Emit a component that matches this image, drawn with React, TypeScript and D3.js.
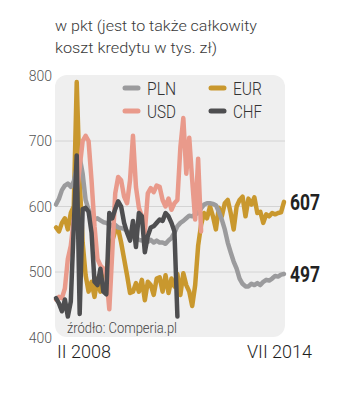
import React from "react";
import * as d3 from "d3";

const titleLines = ["w pkt (jest to także całkowity", "koszt kredytu w tys. zł)"];
const yTicks = [400, 500, 600, 700, 800];
const gridValues = [500, 600, 700];
const startLabel = "II 2008";
const endLabel = "VII 2014";
const sourceLabel = "źródło: Comperia.pl";

const PLN = [603, 612, 625, 632, 635, 630, 638, 660, 675, 650, 610, 595, 585, 580, 582, 579, 576, 575, 573, 570, 572, 568, 567, 566, 562, 559, 556, 552, 549, 548, 550, 546, 549, 545, 548, 545, 545, 543, 548, 552, 560, 570, 575, 578, 582, 586, 585, 588, 590, 597, 603, 605, 605, 604, 602, 592, 580, 565, 545, 530, 516, 505, 490, 482, 478, 478, 482, 480, 483, 480, 485, 488, 487, 490, 494, 493, 496, 497];
const EUR = [568, 562, 575, 582, 565, 590, 600, 790, 640, 545, 495, 470, 485, 462, 490, 470, 505, 500, 530, 548, 562, 566, 545, 520, 495, 468, 470, 483, 470, 488, 457, 485, 480, 465, 490, 492, 470, 495, 468, 490, 478, 497, 465, 498, 480, 470, 448, 480, 540, 572, 590, 582, 600, 585, 565, 598, 585, 605, 610, 590, 565, 600, 610, 615, 585, 612, 603, 614, 590, 592, 575, 588, 585, 590, 588, 590, 591, 607];
const USD = [458, 462, 460, 475, 520, 540, 580, 620, 660, 700, 708, 700, 640, 570, 520, 510, 505, 495, 443, 530, 620, 645, 640, 615, 605, 640, 708, 630, 598, 585, 560, 620, 628, 622, 632, 630, 610, 600, 612, 595, 605, 610, 690, 735, 650, 705, 640, 580, 673, 562];
const CHF = [460, 452, 440, 458, 432, 455, 570, 678, 436, 596, 598, 592, 560, 485, 480, 505, 470, 466, 590, 582, 596, 608, 600, 575, 560, 548, 578, 538, 590, 585, 530, 555, 568, 570, 575, 580, 578, 590, 585, 575, 562, 432];

const seriesList = [
  { name: "EUR", values: EUR, color: "#c9982e" },
  { name: "PLN", values: PLN, color: "#9b9b9d" },
  { name: "USD", values: USD, color: "#e99a8b" },
  { name: "CHF", values: CHF, color: "#4e4e50" },
];

const legendItems = [
  { name: "PLN", color: "#9b9b9d", col: 0, row: 0 },
  { name: "USD", color: "#e99a8b", col: 0, row: 1 },
  { name: "EUR", color: "#c9982e", col: 1, row: 0 },
  { name: "CHF", color: "#4e4e50", col: 1, row: 1 },
];

const endValues = [
  { label: "607", value: 607 },
  { label: "497", value: 497 },
];

export default function App() {
  const W = 355;
  const H = 405;
  const x = d3.scaleLinear().domain([0, PLN.length - 1]).range([56, 284]);
  const y = d3.scaleLinear().domain([400, 800]).range([337.5, 75.5]);
  const line = d3
    .line<number>()
    .x((_, i) => x(i))
    .y((d) => y(d))
    .curve(d3.curveLinear);

  const font = "Roboto, 'Open Sans', sans-serif";

  return (
    <svg
      width={W}
      height={H}
      style={{ position: "absolute", left: 0, top: 0 }}
      xmlns="http://www.w3.org/2000/svg"
    >
      <rect x={0} y={0} width={W} height={H} fill="#ffffff" />
      {titleLines.map((t, i) => (
        <text
          key={t}
          x={55}
          y={31 + i * 22}
          fontFamily={font}
          fontWeight={300}
          fontSize={15.5}
          fill="#3a3a3a"
          textLength={i === 0 ? 202 : 162}
          lengthAdjust="spacingAndGlyphs"
        >
          {t}
        </text>
      ))}
      <rect x={55} y={75} width={230} height={262} rx={12} ry={12} fill="#efefef" />
      {gridValues.map((v) => (
        <line key={v} x1={55} x2={285} y1={y(v)} y2={y(v)} stroke="#d4d4d4" strokeWidth={1} />
      ))}
      {yTicks.map((v) => (
        <text
          key={v}
          x={52}
          y={y(v) + 5}
          textAnchor="end"
          fontFamily={font}
          fontWeight={300}
          fontSize={14}
          fill="#555"
        >
          {v}
        </text>
      ))}
      {seriesList.map((s) => (
        <path
          key={s.name}
          d={line(s.values) || ""}
          fill="none"
          stroke={s.color}
          strokeWidth={4.5}
          strokeLinejoin="round"
          strokeLinecap="round"
        />
      ))}
      {legendItems.map((l) => {
        const lx = l.col === 0 ? 125 : 211;
        const ly = l.row === 0 ? 88 : 111;
        return (
          <g key={l.name}>
            <line x1={lx} x2={lx + 13} y1={ly} y2={ly} stroke={l.color} strokeWidth={5} strokeLinecap="round" />
            <text
              x={lx + 22}
              y={ly + 7}
              fontFamily={font}
              fontWeight={300}
              fontSize={18}
              fill="#333"
              textLength={29}
              lengthAdjust="spacingAndGlyphs"
            >
              {l.name}
            </text>
          </g>
        );
      })}
      {endValues.map((e) => (
        <text
          key={e.label}
          x={290}
          y={y(e.value) + 8}
          fontFamily={font}
          fontWeight={700}
          fontSize={22}
          fill="#222"
          textLength={30}
          lengthAdjust="spacingAndGlyphs"
        >
          {e.label}
        </text>
      ))}
      <text
        x={67}
        y={333}
        fontFamily={font}
        fontWeight={300}
        fontSize={14}
        fill="#444"
        textLength={110}
        lengthAdjust="spacingAndGlyphs"
      >
        {sourceLabel}
      </text>
      <text x={57} y={358} fontFamily={font} fontWeight={300} fontSize={18} fill="#1e1e1e">
        {startLabel}
      </text>
      <text x={312} y={358} textAnchor="end" fontFamily={font} fontWeight={300} fontSize={18} fill="#1e1e1e">
        {endLabel}
      </text>
    </svg>
  );
}
